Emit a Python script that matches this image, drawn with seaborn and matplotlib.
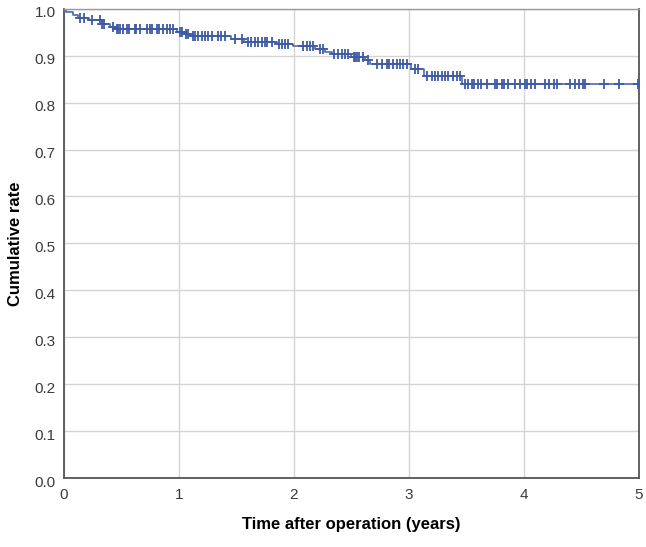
import numpy as np
import pandas as pd
import matplotlib
matplotlib.use("Agg")
import matplotlib.pyplot as plt
import matplotlib.transforms as mtrans
import seaborn as sns

# Kaplan-Meier step curve (time in years, cumulative rate)
step_times = [0.0, 0.02, 0.08, 0.12, 0.22, 0.33, 0.40, 0.45, 0.98, 1.05, 1.10,
              1.45, 1.57, 1.85, 1.99, 2.18, 2.27, 2.33, 2.50, 2.62, 2.66,
              3.02, 3.13, 3.46, 5.0]
step_surv = [1.0, 0.993, 0.987, 0.981, 0.975, 0.968, 0.962, 0.957, 0.951, 0.946, 0.941,
             0.935, 0.929, 0.925, 0.920, 0.914, 0.908, 0.903, 0.898, 0.891, 0.882,
             0.872, 0.856, 0.840, 0.840]

# censored observations (times)
censor_times = [0.14, 0.17, 0.24, 0.31, 0.33, 0.35, 0.43, 0.46, 0.47, 0.49, 0.51, 0.55,
                0.57, 0.62, 0.63, 0.66, 0.72, 0.75, 0.77, 0.81, 0.83, 0.86, 0.90, 0.92,
                0.95, 1.01, 1.03, 1.06, 1.08, 1.12, 1.14, 1.17, 1.20, 1.23, 1.25, 1.29,
                1.34, 1.37, 1.40, 1.49, 1.55, 1.60, 1.63, 1.66, 1.69, 1.72, 1.75,
                1.77, 1.81, 1.87, 1.90, 1.92, 1.95, 2.08, 2.11, 2.14, 2.17, 2.23, 2.25,
                2.35, 2.38, 2.42, 2.44, 2.47, 2.52, 2.53, 2.55, 2.57, 2.60, 2.64,
                2.72, 2.77, 2.81, 2.83, 2.86, 2.90, 2.92, 2.95, 2.98, 3.05, 3.08,
                3.16, 3.20, 3.23, 3.25, 3.29, 3.31, 3.34, 3.38, 3.42, 3.44,
                3.49, 3.51, 3.55, 3.57, 3.60, 3.63, 3.68, 3.75, 3.77, 3.81, 3.83,
                3.86, 3.92, 3.97, 4.01, 4.03, 4.06, 4.10, 4.18, 4.22, 4.26, 4.29,
                4.40, 4.44, 4.48, 4.51, 4.53, 4.70, 4.83, 4.99]

x_ticks = [0, 1, 2, 3, 4, 5]
y_ticks = [0.0, 0.1, 0.2, 0.3, 0.4, 0.5, 0.6, 0.7, 0.8, 0.9, 1.0]

sns.set_theme(style="white")
plt.rcParams['font.family'] = ['Liberation Sans', 'DejaVu Sans']

color = "#3f5ba6"

fig = plt.figure(figsize=(6.46, 5.47), dpi=100)
ax = fig.add_axes([0.099, 0.126, 0.890, 0.858])

curve = pd.DataFrame({"time": step_times, "rate": step_surv})
sns.lineplot(data=curve, x="time", y="rate", ax=ax, estimator=None, sort=False,
             drawstyle="steps-post", color=color, linewidth=1.1)

st = np.array(step_times)
ss = np.array(step_surv)
idx = np.searchsorted(st, np.array(censor_times), side="right") - 1
cens = pd.DataFrame({"time": censor_times, "rate": ss[idx]})
sns.scatterplot(data=cens, x="time", y="rate", ax=ax, marker="+", s=50,
                color=color, linewidth=1.3, zorder=3)

ax.set_xlim(0, 5)
ax.set_ylim(0, 1.0)
ax.set_xticks(x_ticks)
ax.set_xticklabels([str(t) for t in x_ticks])
ax.set_yticks(y_ticks)
ax.set_yticklabels([f"{t:.1f}" for t in y_ticks])
ax.grid(True, color="#d4d4d4", linewidth=1.0)
ax.set_axisbelow(True)
ax.tick_params(axis="both", length=0, labelsize=11, colors="#3a3a3a")
ax.tick_params(axis="x", pad=7)
ax.tick_params(axis="y", pad=6)
shift = mtrans.ScaledTranslation(0, -3 / 100, fig.dpi_scale_trans)
for lab in ax.get_yticklabels():
    lab.set_transform(lab.get_transform() + shift)
for name, sp in ax.spines.items():
    sp.set_visible(True)
    sp.set_color("#555555")
    sp.set_linewidth(1.3)
ax.spines["top"].set_color("#999999")
ax.spines["top"].set_linewidth(1.0)

ax.set_xlabel("Time after operation (years)", fontsize=12, fontweight="bold",
              color="black", labelpad=11)
ax.set_ylabel("Cumulative rate", fontsize=12, fontweight="bold",
              color="black", labelpad=8)

fig.savefig("out.png", dpi=100, facecolor="white")
